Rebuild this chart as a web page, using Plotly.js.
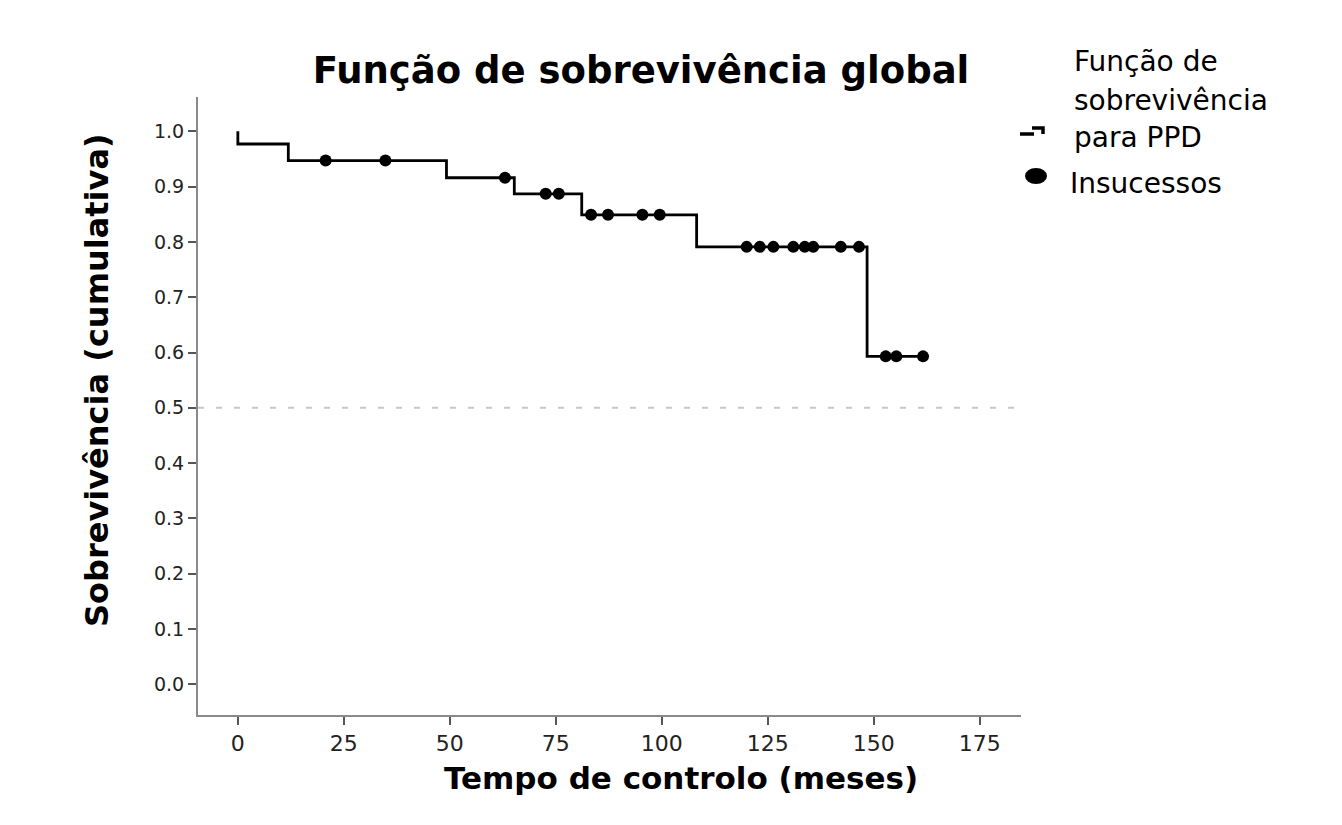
<!DOCTYPE html>
<html>
<head>
<meta charset="utf-8">
<script src="https://cdn.plot.ly/plotly-3.0.1.min.js"></script>
<style>html,body{margin:0;padding:0;background:#fff;}#chart{width:1342px;height:825px;}</style>
</head>
<body>
<div id="chart"></div>
<script>
// ---- Data ----
const stepTimes = [0, 0, 11.9, 49.2, 65.2, 81.1, 108.2, 148.4];
const survival  = [1.0, 0.977, 0.947, 0.916, 0.887, 0.849, 0.791, 0.593];
const lastTime = 161.6;
const censorTimes = [20.7, 34.8, 63.0, 72.6, 75.7, 83.3, 87.3, 95.4, 99.5,
  120.0, 123.1, 126.3, 131.0, 133.7, 135.7, 142.2, 146.5, 152.8, 155.3, 161.6];
const xTicks = [0, 25, 50, 75, 100, 125, 150, 175];
const yTicks = [0.0, 0.1, 0.2, 0.3, 0.4, 0.5, 0.6, 0.7, 0.8, 0.9, 1.0];
const medianLine = 0.5;
const titleText = 'Função de sobrevivência global';
const xTitle = 'Tempo de controlo (meses)';
const yTitle = 'Sobrevivência (cumulativa)';
const legendCurve = ['Função de', 'sobrevivência', 'para PPD'];
const legendCensor = 'Insucessos';

// survival at time t (right-continuous step function)
function survAt(t) {
  let s = survival[0];
  for (let i = 0; i < stepTimes.length; i++) if (stepTimes[i] <= t) s = survival[i];
  return s;
}

const curveX = stepTimes.concat([lastTime]);
const curveY = survival.concat([survival[survival.length - 1]]);

// layout geometry helpers (pixel -> paper)
const L = 198, R = 1021, T = 97, B = 715;
const px = x => (x - L) / (R - L);
const py = y => (B - y) / (B - T);

const traces = [
  {x: curveX, y: curveY, mode: 'lines', line: {shape: 'hv', color: '#000', width: 2.8},
   name: legendCurve.join(' '), showlegend: false, hoverinfo: 'x+y'},
  {x: censorTimes, y: censorTimes.map(survAt), mode: 'markers',
   marker: {symbol: 'circle', size: 12, color: '#000'}, name: legendCensor, showlegend: false}
];

const axisFont = 'DejaVu Sans, sans-serif';
const boldFont = 'DejaVu Sans, sans-serif';

const annotations = [
  {text: '<b>' + yTitle + '</b>', xref: 'paper', yref: 'paper', x: px(97), y: py(380),
   textangle: -90, showarrow: false, xanchor: 'center', yanchor: 'middle',
   font: {family: boldFont, size: 32, color: '#000'}},
  {text: '<b>' + xTitle + '</b>', xref: 'paper', yref: 'paper', x: px(681), y: py(778),
   showarrow: false, xanchor: 'center', yanchor: 'middle',
   font: {family: boldFont, size: 31, color: '#000'}}
];
const legYs = [62, 100, 137];
legendCurve.forEach((t, i) => annotations.push({text: t, xref: 'paper', yref: 'paper',
  x: px(1072), y: py(legYs[i]), showarrow: false, xanchor: 'left', yanchor: 'middle',
  font: {family: axisFont, size: 28, color: '#000'}}));
annotations.push({text: legendCensor, xref: 'paper', yref: 'paper', x: px(1068), y: py(183),
  showarrow: false, xanchor: 'left', yanchor: 'middle', font: {family: axisFont, size: 28, color: '#000'}});

const shapes = [
  {type: 'line', xref: 'paper', yref: 'y', x0: 0, x1: 1, y0: medianLine, y1: medianLine,
   line: {color: '#c8c8c8', width: 2, dash: '6px,12px'}, layer: 'below'},
  {type: 'path', xref: 'paper', yref: 'paper',
   path: `M${px(1020)},${py(134)} L${px(1034)},${py(134)} M${px(1032)},${py(128)} L${px(1043)},${py(128)} L${px(1043)},${py(134)}`,
   line: {color: '#000', width: 3.5}},
  {type: 'circle', xref: 'paper', yref: 'paper', x0: px(1025), x1: px(1047), y0: py(184), y1: py(168),
   fillcolor: '#000', line: {color: '#000', width: 0}}
];

const layout = {
  width: 1342, height: 825,
  margin: {l: L, r: 1342 - R, t: T, b: 825 - B, pad: 0},
  paper_bgcolor: '#fff', plot_bgcolor: '#fff',
  showlegend: false,
  title: {text: '<b>' + titleText + '</b>', xref: 'container', yref: 'container',
          x: 641 / 1342, y: 1 - 70 / 825, xanchor: 'center', yanchor: 'middle',
          font: {family: boldFont, size: 37, color: '#000'}},
  xaxis: {range: [-9.4, 184.7], tickvals: xTicks, ticktext: xTicks.map(String),
          showgrid: false, zeroline: false, showline: true, linecolor: '#8a8a8a', linewidth: 2,
          ticks: 'outside', ticklen: 8, tickwidth: 2, tickcolor: '#555',
          tickfont: {family: axisFont, size: 22, color: '#222'}},
  yaxis: {range: [-0.0555, 1.062], tickvals: yTicks, ticktext: yTicks.map(v => v.toFixed(1)),
          showgrid: false, zeroline: false, showline: true, linecolor: '#8a8a8a', linewidth: 2,
          ticks: 'outside', ticklen: 8, tickwidth: 2, tickcolor: '#555',
          tickfont: {family: axisFont, size: 19, color: '#222'}},
  annotations: annotations,
  shapes: shapes
};

Plotly.newPlot('chart', traces, layout, {displayModeBar: false, staticPlot: true});
</script>
</body>
</html>
